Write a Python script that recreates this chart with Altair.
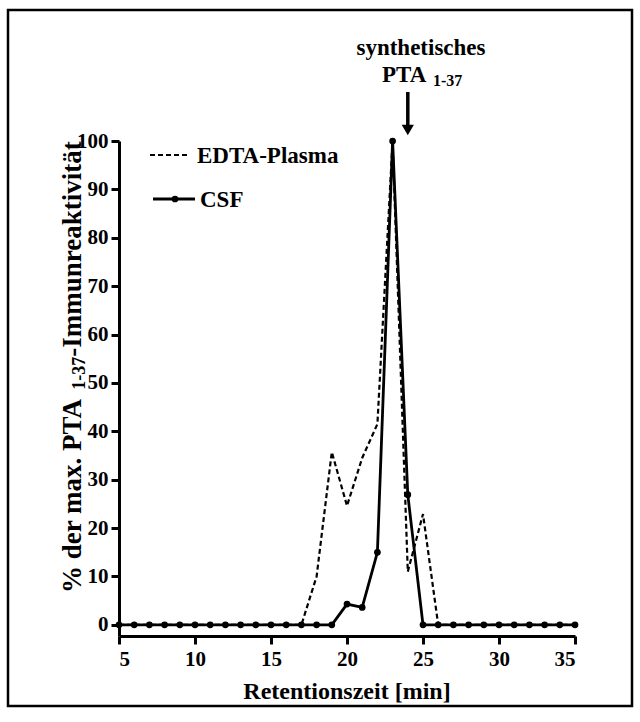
import altair as alt
import pandas as pd

# Retention times (min) of the collected fractions
times = list(range(5, 36))

# % of maximal PTA 1-37 immunoreactivity per fraction
csf = [0] * 15 + [4.3, 3.6, 15.0, 100, 26.9, 0] + [0] * 10
edta_plasma = [0] * 13 + [10, 35.7, 24.6, 34.5, 41.5, 100, 11, 22.9, 0] + [0] * 9

x_ticks = [5, 10, 15, 20, 25, 30, 35]
y_ticks = list(range(0, 101, 10))

FONT = "Liberation Serif"

df = pd.DataFrame({"t": times, "csf": csf, "edta": edta_plasma})
one = pd.DataFrame({"k": [0]})

axis_style = dict(
    labelFont=FONT,
    labelFontWeight=700,
    labelFontSize=21,
    labelColor="black",
    domainColor="black",
    tickColor="black",
    domainWidth=3,
    tickWidth=3,
    grid=False,
    title=None,
)

x_enc = alt.X(
    "t:Q",
    scale=alt.Scale(domain=[5, 35], nice=False),
    axis=alt.Axis(values=x_ticks, tickSize=8, labelPadding=4, **axis_style),
)


def y_enc(field):
    return alt.Y(
        f"{field}:Q",
        scale=alt.Scale(domain=[-2.3, 100], nice=False, zero=False),
        axis=alt.Axis(values=y_ticks, tickSize=8, labelPadding=3, **axis_style),
    )


base = alt.Chart(df)

edta_line = base.mark_line(color="black", strokeWidth=2.2, strokeDash=[5, 3]).encode(
    x=x_enc, y=y_enc("edta")
)
csf_line = base.mark_line(color="black", strokeWidth=2.8).encode(x=x_enc, y=y_enc("csf"))
csf_pts = base.mark_circle(color="black", size=45, opacity=1).encode(
    x=x_enc, y=y_enc("csf")
)


def label(text, x, y, size, align="left", angle=0, baseline="alphabetic"):
    return (
        alt.Chart(one)
        .mark_text(
            text=text,
            font=FONT,
            fontWeight="bold",
            fontSize=size,
            color="black",
            align=align,
            baseline=baseline,
            angle=angle,
        )
        .encode(x=alt.value(x), y=alt.value(y))
    )


# legend
leg_edta = alt.Chart(one).mark_rule(color="black", strokeWidth=2.2, strokeDash=[5, 3]).encode(
    x=alt.value(31), x2=alt.value(71), y=alt.value(14)
)
leg_csf = alt.Chart(one).mark_rule(color="black", strokeWidth=2.8).encode(
    x=alt.value(34), x2=alt.value(76), y=alt.value(58)
)
leg_dot = alt.Chart(one).mark_circle(color="black", size=45, opacity=1).encode(
    x=alt.value(56), y=alt.value(58)
)
leg_t1 = label("EDTA-Plasma", 78, 22, 23)
leg_t2 = label("CSF", 81, 66, 23)

# marker for the synthetic peptide
arrow_shaft = alt.Chart(one).mark_rule(color="black", strokeWidth=3.5).encode(
    x=alt.datum(24), y=alt.value(-49), y2=alt.value(-16)
)
arrow_head = alt.Chart(one).mark_point(
    shape="triangle-down", filled=True, color="black", size=150, opacity=1
).encode(x=alt.datum(24), y=alt.value(-11))
ann1 = label("synthetisches", 302, -86, 23, align="center")
ann2 = label("PTA", 263, -59, 23)
ann3 = label("1-37", 314, -55, 16)

# axis titles
x_title = label("Retentionszeit [min]", 228, 558, 24, align="center")
ys, ysub = 27, 18
w1 = 7.527 * ys
w2 = 1.833 * ysub
y0 = 452
yt1 = label("% der max. PTA ", -38, y0, ys, angle=270)
yt2 = label("1-37", -34, y0 - w1, ysub, angle=270)
yt3 = label("-Immunreaktivität", -38, y0 - w1 - w2, ys, angle=270)

# outer frame
frame = alt.Chart(one).mark_rect(filled=False, stroke="black", strokeWidth=2.5).encode(
    x=alt.value(-111), x2=alt.value(513), y=alt.value(-131), y2=alt.value(565)
)

chart = (
    alt.layer(
        frame,
        edta_line,
        csf_line,
        csf_pts,
        leg_edta,
        leg_csf,
        leg_dot,
        leg_t1,
        leg_t2,
        arrow_shaft,
        arrow_head,
        ann1,
        ann2,
        ann3,
        x_title,
        yt1,
        yt2,
        yt3,
    )
    .properties(
        width=456,
        height=495,
        padding={"left": 119, "top": 141, "right": 65, "bottom": 86},
        autosize=alt.AutoSizeParams(type="none"),
        background="white",
    )
    .configure_view(stroke=None)
    .configure_axis(labelFont=FONT, labelFontWeight="bold", labelColor="black")
)

chart.save("out.html", embed_options={"renderer": "svg", "actions": False})
